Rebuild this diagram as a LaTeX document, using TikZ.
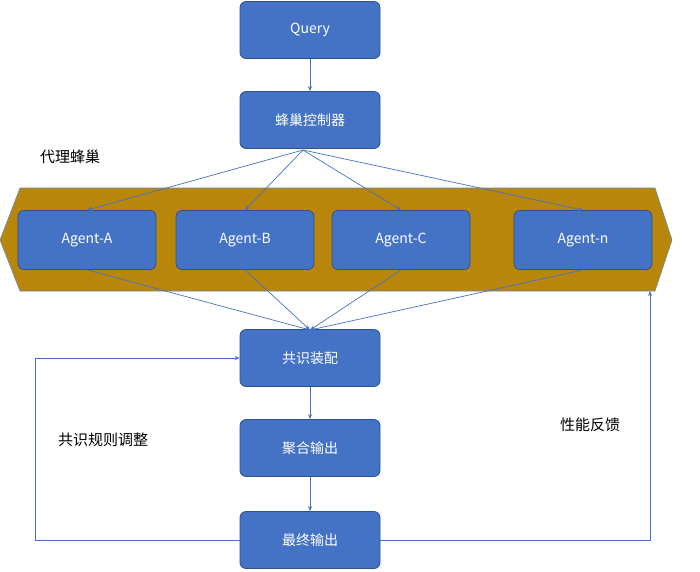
\documentclass[tikz,border=0pt]{standalone}
\usepackage{fontspec}
\setmainfont{Liberation Sans}
\newfontfamily\cjk{Noto Sans CJK SC}
\usetikzlibrary{arrows.meta}
\definecolor{bx}{HTML}{4472C4}
\definecolor{bd}{HTML}{2F528F}
\definecolor{hive}{HTML}{B8860B}
\begin{document}
\begin{tikzpicture}[x=1pt,y=-1pt,
 box/.style={draw=bd,fill=bx,rounded corners=6pt,line width=0.8pt,minimum width=140pt,minimum height=57pt,text=white,font=\cjk\fontsize{14}{16}\selectfont},
 ag/.style={box,minimum width=138pt,minimum height=59pt},
 ln/.style={draw=bx,line width=0.7pt,-{Stealth[length=5pt,width=4pt]}},
 lab/.style={font=\cjk\fontsize{15}{18}\selectfont}]
\useasboundingbox (0,0) rectangle (700,571);
\filldraw[fill=hive,draw=bd!70,line width=0.6pt] (0,240)--(20,188)--(655,188)--(672,240)--(655,291)--(20,291)--cycle;
\node[box] (q) at (310,30) {Query};
\node[box] (c) at (310,120) {蜂巢控制器};
\node[ag] (a) at (87,240) {Agent-A};
\node[ag] (b) at (245,240) {Agent-B};
\node[ag] (cc) at (401,240) {Agent-C};
\node[ag] (n) at (583,240) {Agent-n};
\node[box] (g) at (310,358) {共识装配};
\node[box] (h) at (310,448) {聚合输出};
\node[box] (f) at (310,540) {最终输出};
\node[lab] (l1) at (70,157) {代理蜂巢};
\node[lab] (l2) at (103,440) {共识规则调整};
\node[lab] (l3) at (590,425) {性能反馈};
\coordinate (cb) at (303,150);
\coordinate (gt) at (310,330);
\coordinate (hb) at (650,291);
\draw[ln] (q) -- (c);
\foreach \t in {a,b,cc,n} {\draw[ln] (cb) -- (\t.north); \draw[ln] (\t.south) -- (gt);}
\draw[ln] (g) -- (h);
\draw[ln] (h) -- (f);
\draw[ln] (f.east) -| (hb);
\draw[ln] (f.west) -| (35,358) -- (g.west);
\end{tikzpicture}
\end{document}
